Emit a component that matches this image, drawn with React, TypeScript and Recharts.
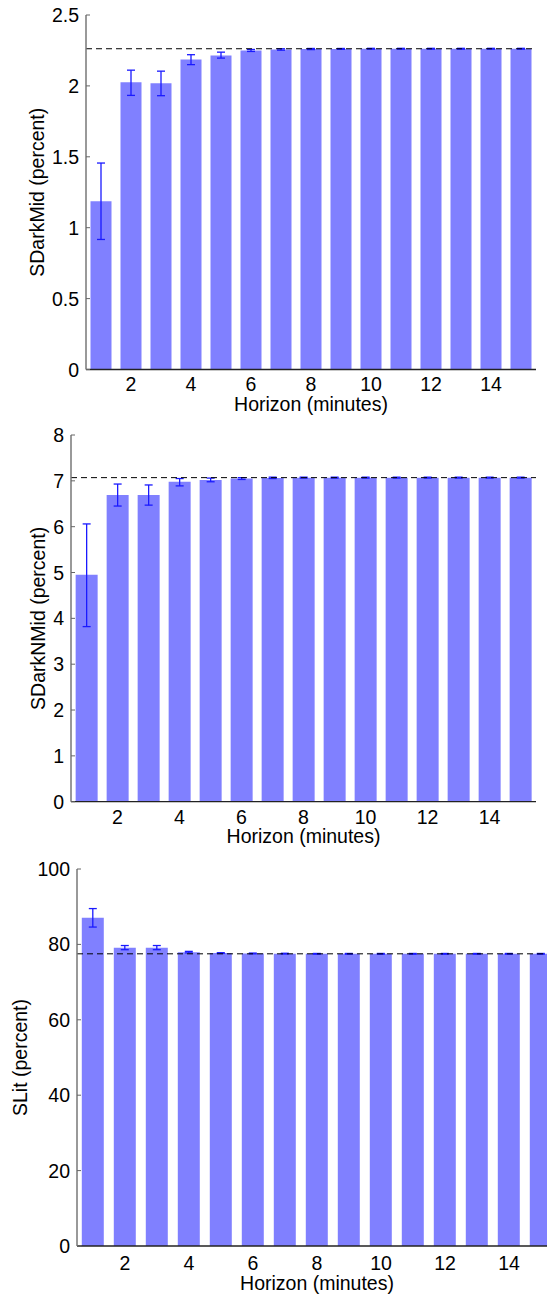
import { Bar, BarChart, ErrorBar, ReferenceLine, XAxis, YAxis } from "recharts";

// horizons 1..15 minutes
const horizons = [1, 2, 3, 4, 5, 6, 7, 8, 9, 10, 11, 12, 13, 14, 15];
const xTickLabels = [2, 4, 6, 8, 10, 12, 14];

// SDarkMid (percent)
const darkMid = [1.187, 2.025, 2.018, 2.187, 2.215, 2.25, 2.257, 2.26, 2.261, 2.262, 2.262, 2.262, 2.262, 2.262, 2.262];
const darkMidLow = [0.917, 1.933, 1.931, 2.15, 2.196, 2.243, 2.252, 2.256, 2.258, 2.259, 2.259, 2.259, 2.259, 2.259, 2.259];
const darkMidHigh = [1.456, 2.111, 2.104, 2.22, 2.238, 2.257, 2.262, 2.264, 2.264, 2.265, 2.265, 2.265, 2.265, 2.265, 2.265];
const darkMidRef = 2.262;
const darkMidTicks = [0, 0.5, 1, 1.5, 2, 2.5];

// SDarkNMid (percent)
const darkNMid = [4.95, 6.69, 6.69, 6.98, 7.02, 7.05, 7.06, 7.07, 7.07, 7.07, 7.07, 7.07, 7.07, 7.07, 7.07];
const darkNMidLow = [3.82, 6.45, 6.47, 6.89, 6.98, 7.03, 7.05, 7.06, 7.06, 7.06, 7.06, 7.06, 7.06, 7.06, 7.06];
const darkNMidHigh = [6.06, 6.93, 6.91, 7.05, 7.06, 7.07, 7.08, 7.08, 7.08, 7.08, 7.08, 7.08, 7.08, 7.08, 7.08];
const darkNMidRef = 7.07;
const darkNMidTicks = [0, 1, 2, 3, 4, 5, 6, 7, 8];

// SLit (percent)
const lit = [87.1, 79.1, 79.1, 77.95, 77.7, 77.6, 77.55, 77.5, 77.5, 77.5, 77.5, 77.5, 77.5, 77.5, 77.5];
const litLow = [84.6, 78.6, 78.6, 77.75, 77.6, 77.5, 77.45, 77.4, 77.4, 77.4, 77.4, 77.4, 77.4, 77.4, 77.4];
const litHigh = [89.5, 79.7, 79.7, 78.15, 77.8, 77.7, 77.65, 77.6, 77.6, 77.6, 77.6, 77.6, 77.6, 77.6, 77.6];
const litRef = 77.5;
const litTicks = [0, 20, 40, 60, 80, 100];

const FONT = '"Liberation Sans", Arial, Helvetica, sans-serif';
const FONT_SIZE = 19.5;
const BAR_FILL = "#8080ff";
const ERR_STROKE = "#1a1aff";

interface PanelProps {
  top: number;
  width: number;
  height: number;
  axisWidth: number;
  marginTop: number;
  marginRight: number;
  xAxisHeight: number;
  yLabel: string;
  yLabelX: number;
  ticks: number[];
  refValue: number;
  values: number[];
  low: number[];
  high: number[];
  xTickDy: number;
  xLabelDy: number;
}

function XTick({ x = 0, y = 0, payload, dy = 22 }: any) {
  const v = Number(payload?.value);
  if (!xTickLabels.includes(v)) return <g />;
  return (
    <text x={x} y={y + dy} textAnchor="middle" fontSize={FONT_SIZE} fontFamily={FONT} fill="#000">
      {v}
    </text>
  );
}

function YTick({ x = 0, y = 0, payload }: any) {
  return (
    <g>
      <line x1={x} x2={x + 4} y1={y} y2={y} stroke="#666" strokeWidth={1} />
      <text x={x - 7} y={y} dy="0.36em" textAnchor="end" fontSize={FONT_SIZE} fontFamily={FONT} fill="#000">
        {payload?.value}
      </text>
    </g>
  );
}

function Panel(p: PanelProps) {
  const data = horizons.map((h, i) => ({
    h,
    v: p.values[i],
    err: [p.values[i] - p.low[i], p.high[i] - p.values[i]],
  }));
  const max = p.ticks[p.ticks.length - 1];

  return (
    <div style={{ position: "absolute", left: 0, top: p.top }}>
      <BarChart
        width={p.width}
        height={p.height}
        data={data}
        margin={{ top: p.marginTop, right: p.marginRight, bottom: 0, left: 0 }}
        barCategoryGap="15%"
      >
        <XAxis
          dataKey="h"
          type="category"
          interval={0}
          height={p.xAxisHeight}
          tickSize={0}
          tickMargin={0}
          tickLine={false}
          axisLine={{ stroke: "#222", strokeWidth: 1.3 }}
          tick={(props: any) => <XTick {...props} dy={p.xTickDy} />}
          label={{
            content: (lp: any) => {
              const vb = lp.viewBox || {};
              return (
                <text
                  x={vb.x + vb.width / 2}
                  y={vb.y + p.xLabelDy}
                  textAnchor="middle"
                  fontSize={FONT_SIZE}
                  fontFamily={FONT}
                  fill="#000"
                >
                  Horizon (minutes)
                </text>
              );
            },
          }}
        />
        <YAxis
          type="number"
          domain={[0, max]}
          ticks={p.ticks}
          interval={0}
          width={p.axisWidth}
          tickSize={0}
          tickMargin={0}
          tickLine={false}
          axisLine={{ stroke: "#777", strokeWidth: 1.5 }}
          tick={(props: any) => <YTick {...props} />}
          label={{
            content: (lp: any) => {
              const vb = lp.viewBox || {};
              const cy = vb.y + vb.height / 2;
              return (
                <text
                  x={p.yLabelX}
                  y={cy}
                  textAnchor="middle"
                  transform={`rotate(-90, ${p.yLabelX}, ${cy})`}
                  fontSize={FONT_SIZE}
                  fontFamily={FONT}
                  fill="#000"
                >
                  {p.yLabel}
                </text>
              );
            },
          }}
        />
        <Bar dataKey="v" fill={BAR_FILL} isAnimationActive={false}>
          <ErrorBar dataKey="err" direction="y" width={4} stroke={ERR_STROKE} strokeWidth={1.3} />
        </Bar>
        <ReferenceLine y={p.refValue} stroke="#000" strokeDasharray="6 4" strokeWidth={1} />
      </BarChart>
    </div>
  );
}

export default function App() {
  return (
    <div
      style={{
        position: "absolute",
        left: 0,
        top: 0,
        width: 547,
        height: 1298,
        overflow: "hidden",
        background: "#fff",
      }}
    >
      <Panel
        top={0}
        width={547}
        height={420}
        axisWidth={86}
        marginTop={15}
        marginRight={11}
        xAxisHeight={50.5}
        yLabel="SDarkMid (percent)"
        yLabelX={44}
        ticks={darkMidTicks}
        refValue={darkMidRef}
        values={darkMid}
        low={darkMidLow}
        high={darkMidHigh}
        xTickDy={21.5}
        xLabelDy={41.5}
      />
      <Panel
        top={420}
        width={547}
        height={430}
        axisWidth={71}
        marginTop={15}
        marginRight={11}
        xAxisHeight={48.3}
        yLabel="SDarkNMid (percent)"
        yLabelX={45}
        ticks={darkNMidTicks}
        refValue={darkNMidRef}
        values={darkNMid}
        low={darkNMidLow}
        high={darkNMidHigh}
        xTickDy={22}
        xLabelDy={41.5}
      />
      <Panel
        top={850}
        width={560}
        height={448}
        axisWidth={77}
        marginTop={19}
        marginRight={3}
        xAxisHeight={52}
        yLabel="SLit (percent)"
        yLabelX={26.5}
        ticks={litTicks}
        refValue={litRef}
        values={lit}
        low={litLow}
        high={litHigh}
        xTickDy={24}
        xLabelDy={44}
      />
    </div>
  );
}
